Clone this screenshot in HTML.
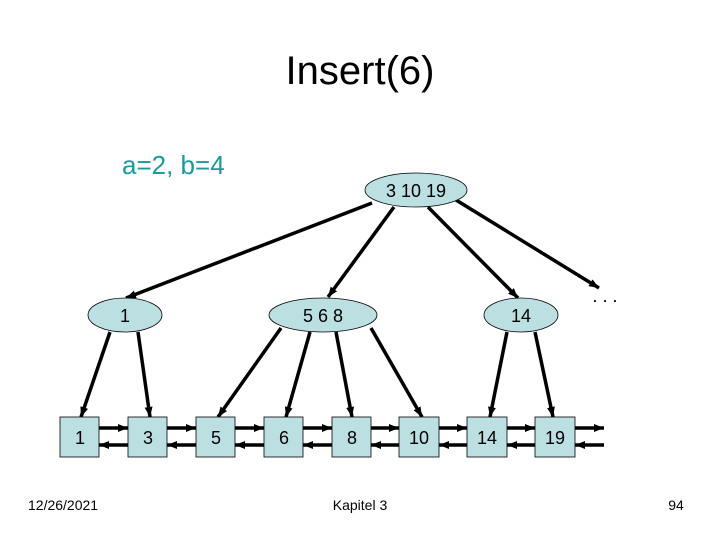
<!DOCTYPE html>
<html><head><style>
body{margin:0;width:720px;height:540px;background:#fff;overflow:hidden}
svg{display:block}
text{font-family:"Liberation Sans",Arial,sans-serif}
</style></head><body>
<svg width="720" height="540" viewBox="0 0 720 540">
<defs><marker id="a" markerWidth="11" markerHeight="10" refX="10" refY="4" orient="auto" markerUnits="userSpaceOnUse"><path d="M0,0 L10,4 L0,8 z" fill="#000"/></marker></defs>
<text x="360" y="84" font-size="40" text-anchor="middle">Insert(6)</text>
<text x="122" y="174" font-size="26" fill="#1a9a9a">a=2, b=4</text>
<g stroke="#000" stroke-width="3.5" marker-end="url(#a)" fill="none">
<line x1="372" y1="203" x2="126" y2="298"/>
<line x1="394" y1="207" x2="328" y2="297"/>
<line x1="428" y1="207" x2="518" y2="298"/>
<line x1="456" y1="200" x2="599" y2="288"/>
<line x1="110" y1="332" x2="81" y2="417"/>
<line x1="138" y1="332" x2="150" y2="417"/>
<line x1="281" y1="328" x2="218" y2="417"/>
<line x1="310" y1="332" x2="286" y2="417"/>
<line x1="336" y1="332" x2="352" y2="417"/>
<line x1="371" y1="328" x2="422" y2="417"/>
<line x1="507" y1="332" x2="490" y2="417"/>
<line x1="535" y1="332" x2="553" y2="417"/>
</g>
<g stroke="#000" stroke-width="3.5" marker-end="url(#a)">
<line x1="99" y1="428" x2="128" y2="428"/><line x1="128" y1="445" x2="99" y2="445"/>
<line x1="167" y1="428" x2="196" y2="428"/><line x1="196" y1="445" x2="167" y2="445"/>
<line x1="235" y1="428" x2="264" y2="428"/><line x1="264" y1="445" x2="235" y2="445"/>
<line x1="303" y1="428" x2="332" y2="428"/><line x1="332" y1="445" x2="303" y2="445"/>
<line x1="371" y1="428" x2="399" y2="428"/><line x1="399" y1="445" x2="371" y2="445"/>
<line x1="439" y1="428" x2="467" y2="428"/><line x1="467" y1="445" x2="439" y2="445"/>
<line x1="507" y1="428" x2="535" y2="428"/><line x1="535" y1="445" x2="507" y2="445"/>
<line x1="575" y1="428" x2="604" y2="428"/><line x1="604" y1="445" x2="575" y2="445"/>
</g>
<g fill="#bcdfe2" stroke="#000" stroke-width="0.8">
<ellipse cx="416" cy="190" rx="51" ry="17"/>
<ellipse cx="125" cy="315" rx="37" ry="17"/>
<ellipse cx="323" cy="315" rx="54" ry="17"/>
<ellipse cx="521" cy="315" rx="37" ry="17"/>
<rect x="60" y="417" width="39" height="40"/>
<rect x="128" y="417" width="39" height="40"/>
<rect x="196" y="417" width="39" height="40"/>
<rect x="264" y="417" width="39" height="40"/>
<rect x="332" y="417" width="39" height="40"/>
<rect x="399" y="417" width="40" height="40"/>
<rect x="467" y="417" width="40" height="40"/>
<rect x="535" y="417" width="40" height="40"/>
</g>
<g font-size="18" text-anchor="middle" xml:space="preserve">
<text x="416" y="197">3  10  19</text>
<text x="125" y="322">1</text>
<text x="323" y="322">5   6   8</text>
<text x="521" y="322">14</text>
<text x="80" y="444">1</text><text x="148" y="444">3</text><text x="216" y="444">5</text>
<text x="284" y="444">6</text><text x="352" y="444">8</text><text x="419" y="444">10</text>
<text x="487" y="444">14</text><text x="555" y="444">19</text>
<text x="605" y="302">. . .</text>
</g>
<g font-size="14">
<text x="28" y="510">12/26/2021</text>
<text x="360" y="510" text-anchor="middle">Kapitel 3</text>
<text x="676" y="510" text-anchor="middle">94</text>
</g>
</svg>
</body></html>
